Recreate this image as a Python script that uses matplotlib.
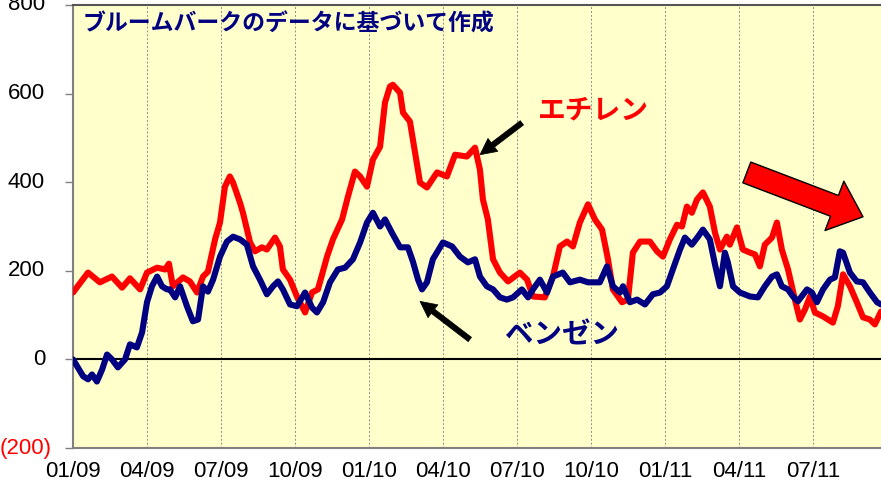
import matplotlib
matplotlib.use('Agg')
import matplotlib.pyplot as plt
from matplotlib import transforms

plt.rcParams['font.family'] = ['Liberation Sans', 'Noto Sans CJK JP', 'DejaVu Sans']

# time axis: months since 01/09
x_tick_pos = [0, 3, 6, 9, 12, 15, 18, 21, 24, 27, 30]
x_tick_labels = ['01/09', '04/09', '07/09', '10/09', '01/10', '04/10',
                 '07/10', '10/10', '01/11', '04/11', '07/11']
y_ticks = [-200, 0, 200, 400, 600, 800]
y_tick_labels = ['(200)', '0', '200', '400', '600', '800']

# Ethylene (エチレン)
eth_t = [0.00, 0.61, 1.09, 1.58, 1.99, 2.31, 2.72, 3.00, 3.41, 3.73, 3.89, 4.05, 4.46, 4.74,
         5.03, 5.27, 5.47, 5.76, 5.96, 6.16, 6.36, 6.49, 6.77, 6.89, 7.18, 7.38, 7.66, 7.86,
         8.19, 8.39, 8.51, 8.80, 9.08, 9.41, 9.69, 9.93, 10.30, 10.54, 10.91, 11.15, 11.43,
         11.64, 11.92, 12.16, 12.45, 12.65, 12.85, 12.97, 13.26, 13.38, 13.66, 14.07, 14.35,
         14.76, 15.16, 15.49, 15.97, 16.30, 16.50, 16.62, 16.82, 17.03, 17.31, 17.64, 18.12,
         18.41, 18.65, 19.13, 19.46, 19.74, 20.03, 20.27, 20.55, 20.88, 21.16, 21.45, 21.69,
         21.89, 22.26, 22.50, 22.70, 22.99, 23.39, 23.68, 23.92, 24.20, 24.49, 24.69, 24.89,
         25.09, 25.30, 25.54, 25.82, 26.03, 26.23, 26.51, 26.63, 26.92, 27.16, 27.45, 27.65,
         27.85, 28.05, 28.34, 28.54, 28.74, 28.99, 29.27, 29.47, 29.68, 29.88, 30.08, 30.41,
         30.81, 31.01, 31.22, 31.50, 31.78, 32.03, 32.31, 32.51, 32.76]
eth_v = [151, 196, 174, 187, 162, 183, 158, 196, 207, 203, 216, 165, 185, 176,
         151, 187, 198, 271, 309, 390, 413, 399, 354, 331, 264, 244, 253, 248,
         275, 255, 203, 180, 142, 106, 151, 158, 232, 271, 316, 368, 424,
         413, 390, 451, 480, 580, 616, 620, 602, 557, 537, 399, 388,
         422, 413, 462, 458, 478, 428, 361, 316, 226, 196, 176, 196,
         180, 142, 140, 187, 255, 266, 255, 309, 350, 316, 293, 226,
         158, 129, 135, 241, 266, 266, 244, 232, 271, 304, 300, 345,
         331, 361, 377, 345, 286, 248, 277, 259, 298, 248, 241, 237,
         210, 259, 275, 309, 248, 203, 135, 90, 113, 142, 106, 97,
         83, 120, 192, 165, 129, 95, 90, 79, 108]

# Benzene (ベンゼン)
benz_t = [0.00, 0.41, 0.61, 0.77, 0.97, 1.18, 1.38, 1.58, 1.82, 2.11, 2.31, 2.59, 2.80, 3.00,
          3.20, 3.41, 3.61, 3.81, 3.93, 4.14, 4.34, 4.62, 4.86, 5.07, 5.27, 5.47, 5.68, 5.96,
          6.24, 6.49, 6.77, 7.05, 7.30, 7.58, 7.86, 8.11, 8.31, 8.51, 8.80, 9.08, 9.41, 9.69,
          9.89, 10.14, 10.42, 10.74, 11.03, 11.35, 11.64, 11.92, 12.16, 12.45, 12.65, 12.93,
          13.26, 13.58, 13.78, 13.99, 14.15, 14.35, 14.59, 15.00, 15.37, 15.69, 16.01, 16.30,
          16.50, 16.78, 17.03, 17.31, 17.59, 17.84, 18.20, 18.45, 18.65, 18.93, 19.22, 19.46,
          19.86, 20.15, 20.55, 20.88, 21.36, 21.65, 21.89, 22.18, 22.30, 22.58, 22.87, 23.19,
          23.51, 23.80, 24.08, 24.32, 24.61, 24.81, 25.09, 25.34, 25.54, 25.82, 26.03, 26.23,
          26.43, 26.55, 26.76, 27.04, 27.45, 27.77, 28.05, 28.34, 28.54, 28.74, 28.99, 29.19,
          29.39, 29.76, 29.96, 30.16, 30.41, 30.69, 30.89, 31.09, 31.22, 31.50, 31.78, 32.03,
          32.31, 32.60, 32.76]
benz_v = [0, -38, -45, -34, -50, -23, 11, 0, -18, 0, 34, 27, 61, 129,
          165, 187, 165, 158, 158, 140, 165, 120, 86, 90, 165, 153, 180, 232,
          266, 277, 271, 259, 210, 180, 147, 165, 176, 158, 124, 120, 151, 117,
          106, 129, 174, 203, 207, 226, 264, 309, 331, 300, 316, 286,
          253, 253, 221, 180, 158, 174, 226, 264, 255, 232, 219, 226,
          187, 165, 158, 140, 135, 140, 158, 140, 158, 180, 151, 187,
          196, 174, 180, 174, 174, 210, 165, 151, 165, 129, 135, 124,
          147, 151, 165, 203, 248, 275, 259, 277, 293, 271, 214, 165,
          241, 219, 165, 151, 142, 140, 165, 187, 192, 165, 158, 142,
          131, 158, 151, 129, 158, 180, 185, 244, 241, 196, 176, 174,
          151, 129, 124]

W, H = 881, 486
fig = plt.figure(figsize=(W / 100, H / 100), dpi=100)
ax = fig.add_axes([73 / W, 1 - 448 / H, 1 - 73 / W, (448 - 5) / H])
ax.set_facecolor('#FFFFCC')

ax.plot(eth_t, eth_v, color='#FF0000', lw=4.4, solid_joinstyle='round',
        solid_capstyle='round', zorder=3)
ax.plot(benz_t, benz_v, color='#000080', lw=4.4, solid_joinstyle='round',
        solid_capstyle='round', zorder=4)
ax.axhline(0, color='black', lw=1.5, zorder=2)

ax.set_xlim(0, 32.76)
ax.set_ylim(-200, 800)

ax.set_xticks(x_tick_pos)
ax.set_xticklabels(x_tick_labels, fontsize=16, color='black')
ax.tick_params(axis='x', length=0, pad=9)
ax.set_yticks(y_ticks)
ax.tick_params(axis='y', direction='out', length=6, width=1, color='#808080', labelleft=False)
ax.grid(axis='x', color='#8c8c8c', ls=(0, (2, 2)), lw=0.7)
ax.set_axisbelow(True)

for side in ['left', 'bottom']:
    ax.spines[side].set_color('#808080')
    ax.spines[side].set_linewidth(1.5)
ax.spines['top'].set_color('#555555')
ax.spines['top'].set_linewidth(1.5)
ax.spines['right'].set_visible(False)

# y tick labels (Excel style: negatives in red parentheses)
ytr = ax.get_yaxis_transform()
for v, lab in zip(y_ticks, y_tick_labels):
    neg = v < 0
    xr = (52 - 73) / (W - 73) if neg else (45 - 73) / (W - 73)
    ax.text(xr, v, lab, transform=ytr, ha='right', va='center', fontsize=16,
            color='#FF0000' if neg else 'black', clip_on=False)

# texts
ax.text((83 - 73) / (W - 73), (448 - 24) / 443, 'ブルームバークのデータに基づいて作成',
        transform=ax.transAxes, ha='left', va='center', fontsize=16.5, fontweight='bold',
        fontstyle='italic', color='#000080', family=['Noto Sans CJK JP', 'DejaVu Sans'])
ax.text(21.12, 561, 'エチレン', ha='center', va='center', fontsize=20, fontweight='bold',
        color='#FF0000', family=['Noto Sans CJK JP', 'DejaVu Sans'], zorder=6)
ax.text(19.82, 54, 'ベンゼン', ha='center', va='center', fontsize=20.5, fontweight='bold',
        color='#000080', family=['Noto Sans CJK JP', 'DejaVu Sans'], zorder=6)

# black pointer arrows
blk = dict(arrowstyle='simple,head_length=0.9,head_width=0.9,tail_width=0.3',
           fc='black', ec='black', lw=0.5, mutation_scale=13, shrinkA=0, shrinkB=0)
ax.annotate('', xy=(16.50, 462), xytext=(18.20, 534), arrowprops=blk, zorder=6)
ax.annotate('', xy=(14.07, 131), xytext=(16.09, 45), arrowprops=blk, zorder=6)

# big red trend arrow
big = dict(arrowstyle='simple,head_length=1.1,head_width=1.9,tail_width=0.8',
           fc='#FF0000', ec='black', lw=1.0, mutation_scale=20, shrinkA=0, shrinkB=0)
ax.annotate('', xy=(32.03, 322), xytext=(27.32, 422), arrowprops=big, zorder=7)

fig.savefig('out.png', dpi=100)
